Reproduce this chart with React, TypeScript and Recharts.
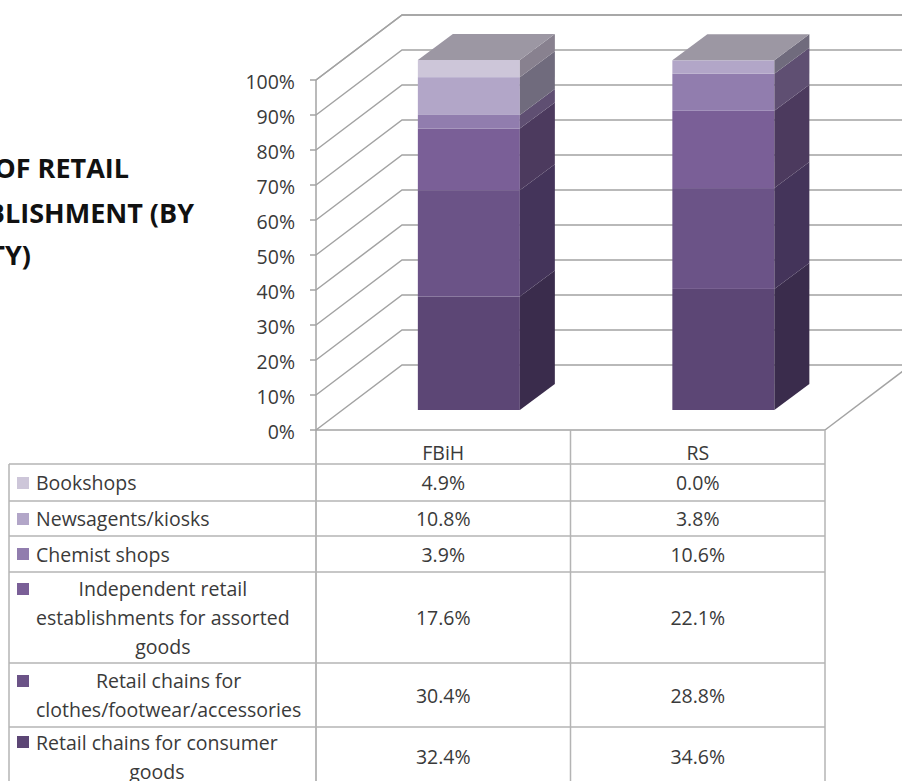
import { BarChart, Bar, XAxis, YAxis, CartesianGrid } from "recharts";

const categories = ["FBiH", "RS"];

// stacked bottom -> top
const consumerGoods = [32.4, 34.6];
const clothesChains = [30.4, 28.8];
const independentRetail = [17.6, 22.1];
const chemistShops = [3.9, 10.6];
const newsagents = [10.8, 3.8];
const bookshops = [4.9, 0.0];

const seriesKeys = ["consumer", "clothes", "independent", "chemist", "newsagents", "bookshops"];
const seriesValues = [consumerGoods, clothesChains, independentRetail, chemistShops, newsagents, bookshops];
const seriesLabels = [
  ["Retail chains for consumer", "goods"],
  ["Retail chains for", "clothes/footwear/accessories"],
  ["Independent retail", "establishments for assorted", "goods"],
  ["Chemist shops"],
  ["Newsagents/kiosks"],
  ["Bookshops"],
];

const yTicks = [0, 10, 20, 30, 40, 50, 60, 70, 80, 90, 100];
const titleLines = ["TYPE OF RETAIL", "ESTABLISHMENT (BY", "ENTITY)"];

// styles
const frontColors = ["#5C4675", "#6B5387", "#7A5F97", "#917DAE", "#B2A6C8", "#CDC6D9"];
const sideColors = ["#3A2C4C", "#44345A", "#4C3A5E", "#5F4F72", "#706B7D", "#88818F"];
const TOP_COLOR = "#9C97A3";
const GRID = "#A3A3A3";
const TABLE_LINE = "#B4B4B4";
const TEXT = "#3A3A3A";
const FONT = "'Open Sans', sans-serif";
const FS = 19.5;

// layout
const W = 902;
const H = 781;
const PLOT_LEFT = 316;
const PLOT_RIGHT = 825;
const PLOT_TOP = 80;
const PLOT_BOTTOM = 430;
const Y_AXIS_W = 80;
const HALF_BAND = (PLOT_RIGHT - PLOT_LEFT) / categories.length / 2;
const WALL_DX = 86;
const WALL_DY = 65;
const BAR_DX = 25.5;
const BAR_DY = 20;
const DEPTH_X = 35;
const DEPTH_Y = 26;
const HEADER_Y = 452;
const ROW_LINES = [464, 501, 536, 572, 663, 727, 786];
const LINE_H = 29;

const chartData = categories.map((name, i) => {
  const row: Record<string, any> = { name };
  seriesKeys.forEach((k, s) => (row[k] = seriesValues[s][i]));
  return row;
});

// table rows go top -> bottom, i.e. reverse of the stack
const tableOrder = seriesKeys.map((_, s) => s).reverse();

function makeShape(s: number) {
  const isTop = s === seriesKeys.length - 1;
  return (p: any) => {
    const x = p.x + BAR_DX;
    const y = p.y - BAR_DY;
    const w = p.width;
    const h = p.height;
    return (
      <g>
        <rect x={x} y={y} width={w} height={h} fill={frontColors[s]} />
        <polygon
          points={`${x + w},${y} ${x + w + DEPTH_X},${y - DEPTH_Y} ${x + w + DEPTH_X},${y + h - DEPTH_Y} ${x + w},${y + h}`}
          fill={sideColors[s]}
        />
        {isTop && (
          <polygon
            points={`${x},${y} ${x + DEPTH_X},${y - DEPTH_Y} ${x + w + DEPTH_X},${y - DEPTH_Y} ${x + w},${y}`}
            fill={TOP_COLOR}
          />
        )}
      </g>
    );
  };
}

const wallLine = (p: any) => {
  const { x1, y1, x2 } = p;
  const floor = Math.abs(y1 - PLOT_BOTTOM) < 1;
  return (
    <g key={`wall-${y1}`}>
      <path
        d={`M${x1},${y1} L${x1 + WALL_DX},${y1 - WALL_DY} L${W + 20},${y1 - WALL_DY}`}
        stroke={GRID}
        strokeWidth={1.5}
        fill="none"
      />
      {floor && (
        <path d={`M${x2},${y1} L${x2 + WALL_DX},${y1 - WALL_DY}`} stroke={GRID} strokeWidth={1.5} fill="none" />
      )}
    </g>
  );
};

const TableColumn = (p: any) => {
  const idx = categories.indexOf(p.payload.value);
  const cx = p.x;
  const left = cx - HALF_BAND;
  const right = cx + HALF_BAND;
  return (
    <g>
      {idx === 0 && <line x1={left} y1={PLOT_BOTTOM} x2={left} y2={H} stroke={GRID} strokeWidth={1.5} />}
      <line x1={right} y1={PLOT_BOTTOM} x2={right} y2={H} stroke={TABLE_LINE} strokeWidth={1.5} />
      <text x={cx} y={HEADER_Y} textAnchor="middle" dominantBaseline="central" fontFamily={FONT} fontSize={FS} fill={TEXT}>
        {categories[idx]}
      </text>
      {tableOrder.map((s, j) => (
        <text
          key={s}
          x={cx}
          y={(ROW_LINES[j] + ROW_LINES[j + 1]) / 2}
          textAnchor="middle"
          dominantBaseline="central"
          fontFamily={FONT}
          fontSize={FS}
          fill={TEXT}
        >
          {seriesValues[s][idx].toFixed(1)}%
        </text>
      ))}
    </g>
  );
};

export default function App() {
  return (
    <div style={{ position: "absolute", left: 0, top: 0, width: W, height: H, overflow: "hidden", background: "#fff" }}>
      <BarChart
        width={W}
        height={H}
        data={chartData}
        margin={{ top: PLOT_TOP, right: W - PLOT_RIGHT, bottom: 0, left: PLOT_LEFT - Y_AXIS_W }}
        barCategoryGap="30%"
      >
        <CartesianGrid horizontal={wallLine} vertical={false} />
        <XAxis
          dataKey="name"
          height={H - PLOT_BOTTOM}
          axisLine={{ stroke: GRID, strokeWidth: 1.5 }}
          tickLine={false}
          interval={0}
          tick={TableColumn}
        />
        <YAxis
          width={Y_AXIS_W}
          domain={[0, 100]}
          ticks={yTicks}
          tickFormatter={(v) => `${v}%`}
          axisLine={{ stroke: GRID, strokeWidth: 1.5 }}
          tickLine={{ stroke: GRID, strokeWidth: 1.5 }}
          tickSize={6}
          tickMargin={15}
          tick={{ fill: TEXT, fontSize: FS, fontFamily: FONT, dy: 2 }}
        />
        {seriesKeys.map((k, s) => (
          <Bar key={k} dataKey={k} stackId="a" isAnimationActive={false} shape={makeShape(s)} />
        ))}
      </BarChart>

      <svg width={W} height={H} style={{ position: "absolute", left: 0, top: 0, pointerEvents: "none" }}>
        {titleLines.map((t, i) => (
          <text
            key={t}
            x={[129, 194, 31][i]}
            y={[178, 223, 265][i]}
            textAnchor="end"
            fontFamily={FONT}
            fontWeight={700}
            fontSize={27}
            fill="#111"
          >
            {t}
          </text>
        ))}
        {ROW_LINES.slice(0, -1).map((yy) => (
          <line key={yy} x1={9} y1={yy} x2={PLOT_RIGHT} y2={yy} stroke={TABLE_LINE} strokeWidth={1.5} />
        ))}
        <line x1={9} y1={ROW_LINES[0]} x2={9} y2={H} stroke={TABLE_LINE} strokeWidth={1.5} />
      </svg>

      {tableOrder.map((s, j) => (
        <div
          key={s}
          style={{
            position: "absolute",
            left: 17,
            top: ROW_LINES[j],
            height: ROW_LINES[j + 1] - ROW_LINES[j],
            display: "flex",
            alignItems: "center",
            fontFamily: FONT,
            fontSize: FS,
            color: TEXT,
          }}
        >
          <div style={{ display: "flex", alignItems: "flex-start" }}>
            <div
              style={{
                width: 12,
                height: 12,
                marginTop: (LINE_H - 12) / 2,
                marginRight: 7,
                background: frontColors[s],
                flexShrink: 0,
              }}
            />
            <div style={{ textAlign: "center", lineHeight: `${LINE_H}px`, whiteSpace: "nowrap" }}>
              {seriesLabels[s].map((line, li) => (
                <div key={li}>{line}</div>
              ))}
            </div>
          </div>
        </div>
      ))}
    </div>
  );
}
